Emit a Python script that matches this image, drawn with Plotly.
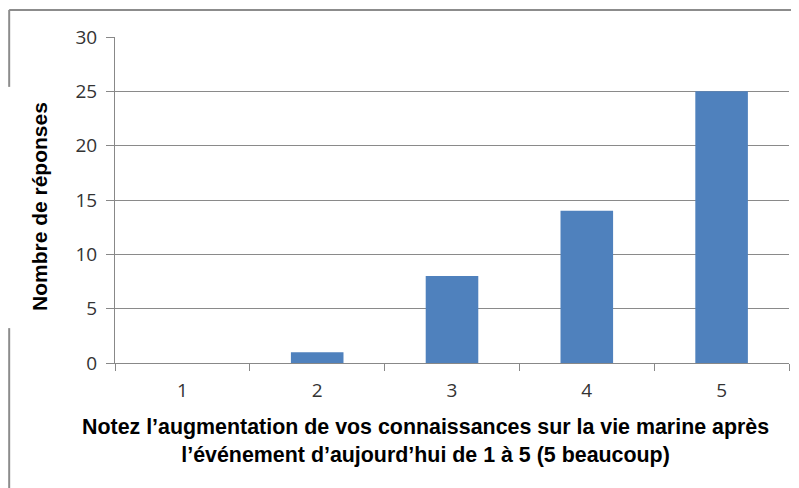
import plotly.graph_objects as go

categories = ["1", "2", "3", "4", "5"]
values = [0, 1, 8, 14, 25]
y_ticks = [0, 5, 10, 15, 20, 25, 30]
y_title = "Nombre de réponses"
x_title = "Notez l’augmentation de vos connaissances sur la vie marine après<br>l’événement d’aujourd’hui de 1 à 5 (5 beaucoup)"

fig = go.Figure(go.Bar(x=categories, y=values, marker=dict(color="#4F81BD", line=dict(width=0)), width=0.39))

fig.update_layout(
    width=791, height=480,
    margin=dict(l=107, r=10, t=29, b=125),
    plot_bgcolor="white", paper_bgcolor="white",
    showlegend=False,
    font=dict(family="Open Sans, Liberation Sans, sans-serif", size=19, color="#333333"),
)
fig.update_xaxes(
    type="category", tickson="boundaries", ticks="outside", ticklen=7, tickcolor="#888888",
    showline=True, linecolor="#888888", linewidth=1, showgrid=False, automargin=False,
    tickfont=dict(size=19, color="#333333"), ticklabelstandoff=10,
)
fig.update_yaxes(
    range=[0, 30], tickvals=y_ticks, ticks="outside", ticklen=8, tickcolor="#888888",
    showline=True, linecolor="#888888", linewidth=1, automargin=False,
    showgrid=True, gridcolor="#8a8a8a", gridwidth=1, zeroline=False,
    tickfont=dict(size=19, color="#333333"), ticklabelstandoff=5,
)
fig.add_annotation(
    text=x_title, xref="paper", yref="paper", x=0.46, y=-0.239, xanchor="center", yanchor="middle",
    showarrow=False, align="center",
    font=dict(family="Liberation Sans, Arial, sans-serif", size=21.4, color="black", weight="bold"),
)
fig.add_annotation(
    text=y_title, xref="paper", yref="paper", x=-0.111, y=0.479, xanchor="center", yanchor="middle",
    showarrow=False, textangle=-90,
    font=dict(family="Liberation Sans, Arial, sans-serif", size=21, color="black", weight="bold"),
)
# frame remnants
line_style = dict(color="#8c8c8c", width=2)
fig.add_shape(type="line", xref="paper", yref="paper", x0=-0.157, x1=1.02, y0=1.083, y1=1.083, line=line_style)
fig.add_shape(type="line", xref="paper", yref="paper", x0=-0.157, x1=-0.157, y0=1.083, y1=0.847, line=line_style)
fig.add_shape(type="line", xref="paper", yref="paper", x0=-0.157, x1=-0.157, y0=0.107, y1=-0.4, line=line_style)
fig.write_html("out.html")
